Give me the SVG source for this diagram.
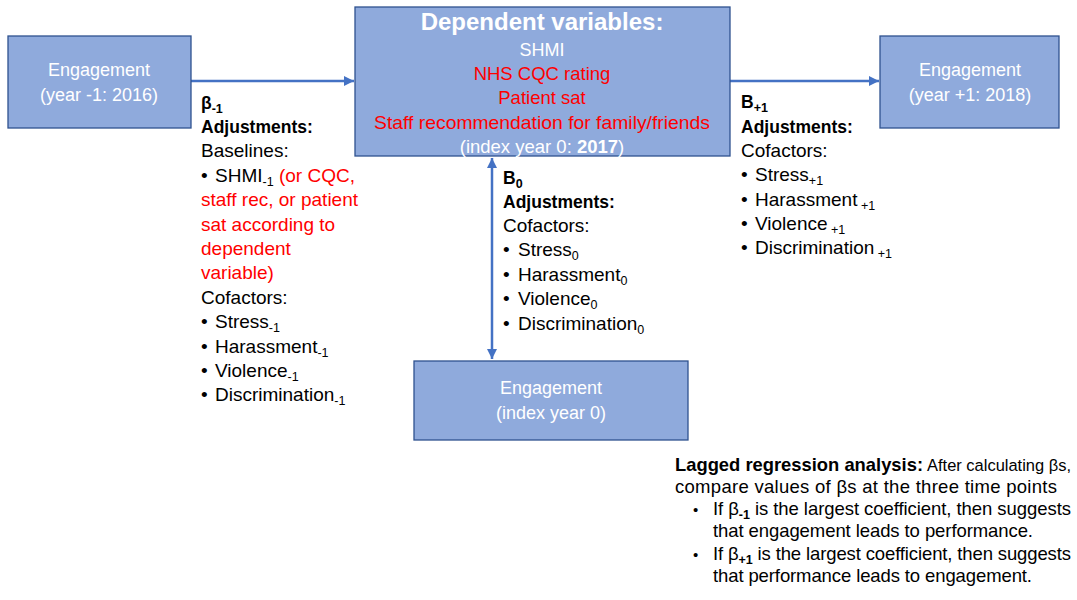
<svg xmlns="http://www.w3.org/2000/svg" width="1077" height="600" viewBox="0 0 1077 600">
<style>
text{font-family:"Liberation Sans",Arial,sans-serif;font-size:19px;fill:#000}
.box{fill:#8FAADC;stroke:#2F528F;stroke-width:1.3}
.eng{font-size:18px;fill:#fff}
.w{fill:#fff}
.r{fill:#FF0000}
.b{font-weight:bold}
.lb{font-weight:bold;font-size:17.5px}
.sub{font-size:12.5px}
.conn{stroke:#4472C4;stroke-width:2.5;fill:none}
.note{font-size:18.5px}
.nb{font-weight:bold;font-size:18.5px}
</style>
<defs>
<marker id="ah" viewBox="0 0 10 10" refX="10" refY="5" markerWidth="4" markerHeight="4" orient="auto-start-reverse" markerUnits="strokeWidth">
<path d="M0,0 L10,5 L0,10 z" fill="#4472C4"/>
</marker>
</defs>
<g id="connectors">
<line class="conn" x1="191" y1="81" x2="354" y2="81" marker-end="url(#ah)"/>
<line class="conn" x1="730" y1="81" x2="879" y2="81" marker-end="url(#ah)"/>
<line class="conn" x1="492" y1="158" x2="492" y2="359" marker-start="url(#ah)" marker-end="url(#ah)"/>
</g>
<g id="node-year-minus1">
<rect class="box" x="8" y="36" width="183" height="92"/>
<text class="eng" x="99" y="76" text-anchor="middle">Engagement</text>
<text class="eng" x="99" y="101" text-anchor="middle">(year -1: 2016)</text>
</g>
<g id="node-dependent">
<rect class="box" x="355" y="7" width="375" height="149"/>
<text class="w b" x="542" y="30" text-anchor="middle" style="font-size:24px">Dependent variables:</text>
<text class="eng" x="542" y="56" text-anchor="middle">SHMI</text>
<text class="r" x="542" y="80" text-anchor="middle" style="font-size:18.5px">NHS CQC rating</text>
<text class="r" x="542" y="104" text-anchor="middle" style="font-size:18.5px">Patient sat</text>
<text class="r" x="542" y="129" text-anchor="middle" style="font-size:18.5px" textLength="336" lengthAdjust="spacingAndGlyphs">Staff recommendation for family/friends</text>
<text class="w" x="542" y="153" text-anchor="middle" style="font-size:18.5px">(index year 0: <tspan class="b">2017</tspan>)</text>
</g>
<g id="node-year-plus1">
<rect class="box" x="880" y="36" width="179" height="92"/>
<text class="eng" x="970" y="76" text-anchor="middle">Engagement</text>
<text class="eng" x="970" y="101" text-anchor="middle">(year +1: 2018)</text>
</g>
<g id="node-index-year">
<rect class="box" x="414" y="361" width="274" height="79"/>
<text class="eng" x="551" y="394" text-anchor="middle">Engagement</text>
<text class="eng" x="551" y="419" text-anchor="middle">(index year 0)</text>
</g>
<g id="label-beta-minus1">
<text class="lb" x="201" y="109">β<tspan class="sub" dy="4">-1</tspan></text>
<text class="lb" x="201" y="133">Adjustments:</text>
<text x="201" y="157">Baselines:</text>
<text x="201" y="182">•</text>
<text x="215" y="182">SHMI<tspan class="sub" dy="4">-1</tspan><tspan dy="-4" class="r"> (or CQC,</tspan></text>
<text class="r" x="201" y="206">staff rec, or patient</text>
<text class="r" x="201" y="231">sat according to</text>
<text class="r" x="201" y="255">dependent</text>
<text class="r" x="201" y="279">variable)</text>
<text x="201" y="304">Cofactors:</text>
<text x="201" y="328">•</text><text x="215" y="328">Stress<tspan class="sub" dy="4">-1</tspan></text>
<text x="201" y="353">•</text><text x="215" y="353">Harassment<tspan class="sub" dy="4">-1</tspan></text>
<text x="201" y="377">•</text><text x="215" y="377">Violence<tspan class="sub" dy="4">-1</tspan></text>
<text x="201" y="401">•</text><text x="215" y="401">Discrimination<tspan class="sub" dy="4">-1</tspan></text>
</g>
<g id="label-beta-0">
<text class="lb" x="503" y="184">B<tspan class="sub" dy="4">0</tspan></text>
<text class="lb" x="503" y="208">Adjustments:</text>
<text x="503" y="232">Cofactors:</text>
<text x="503" y="256">•</text><text x="518" y="256">Stress<tspan class="sub" dy="4">0</tspan></text>
<text x="503" y="281">•</text><text x="518" y="281">Harassment<tspan class="sub" dy="4">0</tspan></text>
<text x="503" y="305">•</text><text x="518" y="305">Violence<tspan class="sub" dy="4">0</tspan></text>
<text x="503" y="330">•</text><text x="518" y="330">Discrimination<tspan class="sub" dy="4">0</tspan></text>
</g>
<g id="label-beta-plus1">
<text class="lb" x="741" y="108">B<tspan class="sub" dy="4">+1</tspan></text>
<text class="lb" x="741" y="133">Adjustments:</text>
<text x="741" y="157">Cofactors:</text>
<text x="741" y="181">•</text><text x="755" y="181">Stress<tspan class="sub" dy="4">+1</tspan></text>
<text x="741" y="206">•</text><text x="755" y="206">Harassment<tspan class="sub" dy="4"> +1</tspan></text>
<text x="741" y="230">•</text><text x="755" y="230">Violence<tspan class="sub" dy="4"> +1</tspan></text>
<text x="741" y="254">•</text><text x="755" y="254">Discrimination<tspan class="sub" dy="4"> +1</tspan></text>
</g>
<g id="note">
<text class="nb" x="675" y="471" textLength="248" lengthAdjust="spacingAndGlyphs">Lagged regression analysis:</text>
<text x="927" y="471" style="font-size:16.3px" textLength="144" lengthAdjust="spacingAndGlyphs">After calculating βs,</text>
<text class="note" x="675" y="493" textLength="382" lengthAdjust="spacing">compare values of βs at the three time points</text>
<text class="note" x="693" y="515" style="font-size:15px">•</text>
<text class="note" x="713" y="515" textLength="358" lengthAdjust="spacing">If β<tspan class="sub b" dy="4">-1</tspan><tspan dy="-4"> is the largest coefficient, then suggests</tspan></text>
<text class="note" x="713" y="537" textLength="320" lengthAdjust="spacing">that engagement leads to performance.</text>
<text class="note" x="693" y="560" style="font-size:15px">•</text>
<text class="note" x="713" y="560" textLength="358" lengthAdjust="spacing">If β<tspan class="sub b" dy="4">+1</tspan><tspan dy="-4"> is the largest coefficient, then suggests</tspan></text>
<text class="note" x="713" y="582" textLength="319" lengthAdjust="spacing">that performance leads to engagement.</text>
</g>
</svg>
